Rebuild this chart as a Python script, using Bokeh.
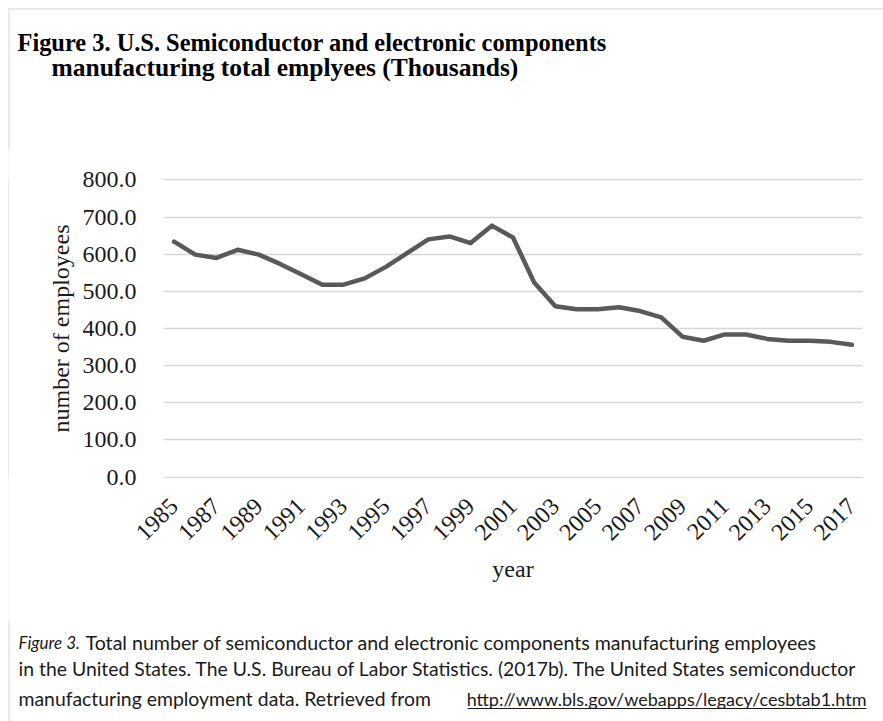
from math import pi

from bokeh.core.properties import value
from bokeh.embed import file_html
from bokeh.layouts import column, row
from bokeh.models import FixedTicker, PrintfTickFormatter, Range1d, Spacer
from bokeh.plotting import figure
from bokeh.resources import INLINE

# U.S. semiconductor and electronic components manufacturing employment (thousands)
years = list(range(1985, 2018))
employees = [634, 599, 590, 612, 599, 574, 546, 518, 518, 535, 566, 603,
             640, 648, 630, 677, 645, 524, 460, 452, 452, 457, 447, 430,
             378, 367, 384, 384, 372, 367, 367, 364, 356]
y_ticks = [0, 100, 200, 300, 400, 500, 600, 700, 800]
x_ticks = list(range(1985, 2018, 2))

title_lines = ["Figure 3. U.S. Semiconductor and electronic components",
               "manufacturing total emplyees  (Thousands)"]
caption_lead = "Figure 3."
caption_lines = ["Total number of semiconductor and electronic components manufacturing employees",
                 "in the United  States. The U.S. Bureau of Labor Statistics. (2017b). The United States semiconductor",
                 "manufacturing employment data. Retrieved from"]
caption_url = "http://www.bls.gov/webapps/legacy/cesbtab1.htm"

SERIF = "Liberation Serif"
SANS = "Lato"
FRAME = "#d6d6d6"
INK = "#1a1a1a"

W, H = 883, 721
TOP_H, MID_H = 150, 470
BOT_H = H - TOP_H - MID_H
EDGE_X = 8


def blank(width, height):
    """A figure whose plotting area is the whole canvas, in pixel coordinates (y down)."""
    f = figure(width=width, height=height, output_backend="svg", toolbar_location=None,
               x_range=Range1d(0, width), y_range=Range1d(height, 0),
               x_axis_location=None, y_axis_location=None, min_border=0)
    f.outline_line_color = None
    f.grid.visible = False
    f.background_fill_color = "white"
    f.border_fill_color = "white"
    return f


# heading block with the page frame corner
head = blank(W, TOP_H)
head.segment(x0=[EDGE_X, EDGE_X + 0.5], y0=[EDGE_X + 0.5, EDGE_X], x1=[W, EDGE_X + 0.5],
             y1=[EDGE_X + 0.5, TOP_H], line_color=FRAME, line_width=1)
head.text(x=[17], y=[42], text=[title_lines[0]], text_font=value(SERIF),
          text_font_style="bold", text_font_size="24.4px", text_color="black",
          text_baseline="alphabetic", text_align="left")
head.text(x=[51], y=[67], text=[title_lines[1]], text_font=value(SERIF),
          text_font_style="bold", text_font_size="25.5px", text_color="black",
          text_baseline="alphabetic", text_align="left")

# left frame edge beside the chart: a one pixel wide grey column
edge = figure(width=1, height=MID_H, output_backend="svg", toolbar_location=None,
              x_axis_location=None, y_axis_location=None, min_border=0)
edge.outline_line_color = None
edge.grid.visible = False
edge.background_fill_color = FRAME
edge.border_fill_color = FRAME

# the chart
p = figure(width=W - EDGE_X - 1, height=MID_H, output_backend="svg", toolbar_location=None,
           x_range=Range1d(1984.5, 2017.5), y_range=Range1d(-4, 804),
           min_border_left=163 - EDGE_X - 1, min_border_right=21, min_border_top=28,
           min_border_bottom=142)
p.outline_line_color = None
p.background_fill_color = "white"
p.border_fill_color = "white"

p.line(years, employees, line_color="#595959", line_width=4.5,
       line_cap="round", line_join="round")

p.xgrid.visible = False
p.ygrid.grid_line_color = FRAME
p.ygrid.grid_line_width = 1.6

ya = p.yaxis[0]
ya.ticker = FixedTicker(ticks=y_ticks)
ya.formatter = PrintfTickFormatter(format="%.1f")
ya.axis_line_color = None
ya.major_tick_line_color = None
ya.minor_tick_line_color = None
ya.major_label_text_font = SERIF
ya.major_label_text_font_size = "24px"
ya.major_label_text_color = INK
ya.major_label_standoff = 21
ya.axis_label = "number of employees"
ya.axis_label_text_font = SERIF
ya.axis_label_text_font_size = "24px"
ya.axis_label_text_font_style = "normal"
ya.axis_label_text_color = INK
ya.axis_label_standoff = 6

xa = p.xaxis[0]
xa.ticker = FixedTicker(ticks=x_ticks)
xa.axis_line_color = None
xa.major_tick_line_color = None
xa.minor_tick_line_color = None
xa.major_label_orientation = pi / 4
xa.major_label_text_font = SERIF
xa.major_label_text_font_size = "24px"
xa.major_label_text_color = INK
xa.major_label_standoff = 18
xa.axis_label = "year"
xa.axis_label_text_font = SERIF
xa.axis_label_text_font_size = "24px"
xa.axis_label_text_font_style = "normal"
xa.axis_label_text_color = INK
xa.axis_label_standoff = 6

# caption block
foot = blank(W, BOT_H)
foot.segment(x0=[EDGE_X + 0.5], y0=[0], x1=[EDGE_X + 0.5], y1=[BOT_H],
             line_color=FRAME, line_width=1)
cap_y = [22, 48, 78]
foot.text(x=[18], y=[cap_y[0]], text=[caption_lead], text_font=value(SANS),
          text_font_style="italic", text_font_size="17px", text_color=INK,
          text_baseline="alphabetic")
foot.text(x=[85], y=[cap_y[0]], text=[caption_lines[0]], text_font=value(SANS),
          text_font_size="19.6px", text_color=INK, text_baseline="alphabetic")
foot.text(x=[18, 18], y=cap_y[1:], text=caption_lines[1:], text_font=value(SANS),
          text_font_size="19.4px", text_color=INK, text_baseline="alphabetic")
foot.text(x=[866], y=[cap_y[2]], text=[caption_url], text_font=value(SANS),
          text_font_size="18px", text_color=INK, text_baseline="alphabetic",
          text_align="right")
foot.segment(x0=[467], y0=[88], x1=[866], y1=[88], line_color=INK, line_width=1.1)

layout = column(head, row(Spacer(width=EDGE_X, height=MID_H), edge, p, spacing=0),
                foot, spacing=0)

open("out.html", "w").write(file_html(layout, INLINE))
